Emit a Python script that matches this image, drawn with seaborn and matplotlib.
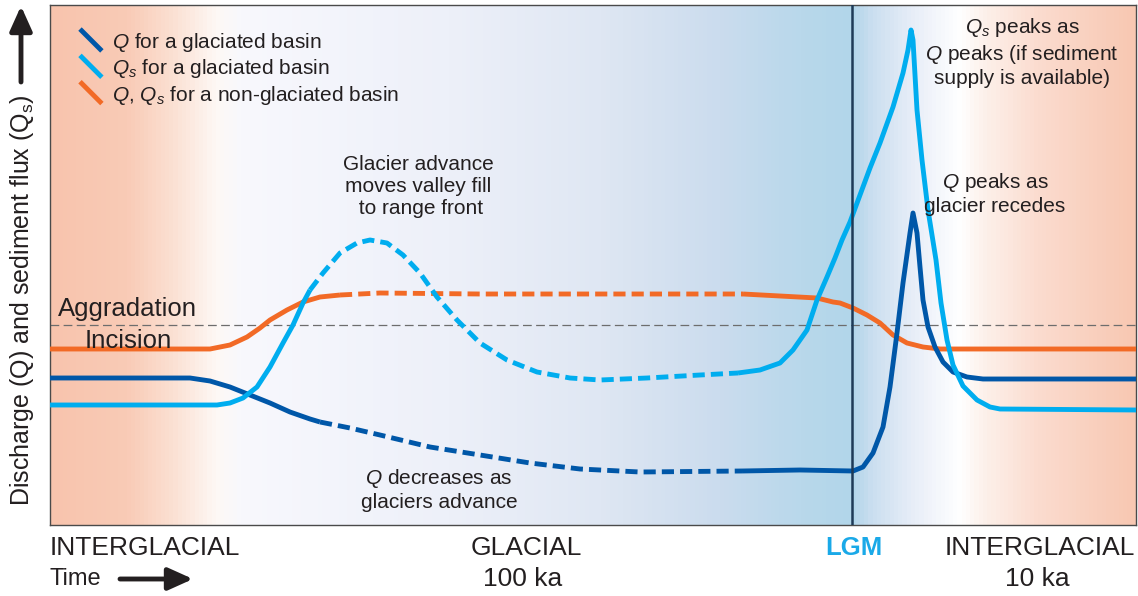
import numpy as np
import pandas as pd
import seaborn as sns
import matplotlib
matplotlib.use("Agg")
import matplotlib.pyplot as plt
from matplotlib.colors import LinearSegmentedColormap
from matplotlib.lines import Line2D
from matplotlib.legend_handler import HandlerBase

# ---------------- data (time axis in px-like units, values = relative flux) -------------
x_orange = [50, 170, 210, 230, 247, 260, 270, 287, 303, 320, 340, 380, 480, 580, 700, 743,
            780, 817, 833, 840, 853, 867, 880, 893, 907, 923, 940, 1000, 1136]
y_orange = [176, 176, 176, 180, 188, 197, 205, 215, 223, 228, 230, 232, 231, 231, 231, 231,
            229, 227, 223, 222, 217, 210, 202, 190, 182, 178, 176, 176, 176]
orange_dash = (340, 743)

x_q = [50, 190, 210, 230, 250, 270, 290, 310, 320, 350, 380, 430, 480, 530, 580, 640, 742,
       800, 853, 863, 873, 883, 890, 897, 903, 910, 913, 917, 920, 923, 928, 935, 943, 953,
       967, 983, 1000, 1136]
y_q = [147, 147, 144, 138, 130, 122, 113, 106, 103, 97, 90, 78, 70, 62, 56, 53, 54,
       55, 54, 58, 72, 98, 138, 192, 242, 292, 312, 292, 258, 225, 198, 178, 163, 153,
       148, 146, 146, 146]
q_dash = (320, 742)

x_qs = [50, 217, 230, 243, 257, 270, 283, 293, 303, 310, 323, 340, 357, 370, 387, 403, 420,
        437, 457, 480, 507, 537, 570, 600, 647, 700, 738, 760, 780, 793, 807, 817, 827, 835,
        842, 850, 860, 870, 880, 893, 903, 908, 911, 913, 917, 922, 928, 932, 936, 941, 947,
        953, 963, 977, 990, 1000, 1136]
y_qs = [120, 120, 122, 127, 138, 158, 182, 200, 222, 235, 252, 272, 282, 285, 282, 270, 252,
        228, 205, 182, 165, 153, 147, 145, 147, 150, 152, 155, 162, 175, 195, 225, 248, 267,
        285, 303, 330, 357, 382, 418, 452, 475, 495, 485, 415, 365, 315, 290, 265, 222, 185,
        160, 139, 125, 118, 116, 115]
qs_dash = (310, 738)

threshold = 200          # aggradation / incision line
lgm_x = 852

legend_labels = [r"$Q$ for a glaciated basin",
                 r"$Q_s$ for a glaciated basin",
                 r"$Q$, $Q_s$ for a non-glaciated basin"]

C_Q = "#0057a8"
C_QS = "#00adef"
C_OR = "#f26a26"
TXT = "#231f20"
LW = 3.5

# ---------------- figure ----------------
sns.set_theme(style="white")
plt.rcParams["font.family"] = ["Liberation Sans", "DejaVu Sans"]
plt.rcParams["mathtext.fontset"] = "custom"
plt.rcParams["mathtext.rm"] = "Liberation Sans"
plt.rcParams["mathtext.it"] = "Liberation Sans:italic"
plt.rcParams["mathtext.bf"] = "Liberation Sans:bold"

W, H = 1138, 596
fig = plt.figure(figsize=(W / 100, H / 100), dpi=100)
ax = fig.add_axes([50 / W, 1 - 525 / H, (1136 - 50) / W, 520 / H])
ax.set_xlim(50, 1136)
ax.set_ylim(0, 520)

# background gradient
stops = [(50, "#f8c4ad"), (125, "#f9cbb6"), (170, "#fbe0d2"), (215, "#fef8f5"),
         (240, "#f8f8fd"), (450, "#edf0f9"), (600, "#dfe7f3"), (720, "#cbdcee"),
         (800, "#b9d8eb"), (851, "#b2d6ea"), (855, "#b3d6ea"), (875, "#ccdff0"),
         (915, "#e8eef8"), (962, "#ffffff"), (985, "#fdf1eb"), (1040, "#fbdccf"),
         (1100, "#f9cfbd"), (1136, "#f8c8b2")]
cmap = LinearSegmentedColormap.from_list(
    "bg", [((p - 50) / 1086, c) for p, c in stops])
grad = np.linspace(0, 1, 1086)[None, :]
ax.imshow(grad, cmap=cmap, extent=(50, 1136, 0, 520), aspect="auto", zorder=0)

def draw(xs, ys, dash, color, z):
    df = pd.DataFrame({"x": xs, "y": ys})
    a, b = dash
    parts = [(df[df.x <= a], None), (df[(df.x >= a) & (df.x <= b)], (2.5, 1.25)),
             (df[df.x >= b], None)]
    for part, d in parts:
        sns.lineplot(data=part, x="x", y="y", sort=False, ax=ax, color=color,
                     lw=LW, zorder=z, estimator=None)
        ln = ax.lines[-1]
        if d is not None:
            ln.set_dashes(d)
            ln.set_dash_capstyle("butt")
        else:
            ln.set_solid_capstyle("butt")
        ln.set_solid_joinstyle("round")
        ln.set_dash_joinstyle("round")

ax.axhline(threshold, color="#6d6d6d", lw=0.9, dashes=(7, 3.5), zorder=2)
draw(x_orange, y_orange, orange_dash, C_OR, 3)
draw(x_q, y_q, q_dash, C_Q, 4)
draw(x_qs, y_qs, qs_dash, C_QS, 5)
ax.axvline(lgm_x, color="#1d3a57", lw=1.8, zorder=6)

ax.set_xticks([])
ax.set_yticks([])
ax.set_xlabel("")
ax.set_ylabel("")
for s in ax.spines.values():
    s.set_color("#4a4a4a")
    s.set_linewidth(1.0)
    s.set_visible(True)

# legend with diagonal handles
class Diag(HandlerBase):
    def create_artists(self, legend, orig, xd, yd, w, h, fs, trans):
        l = Line2D([-xd, -xd + w], [-yd + h * 1.3, -yd - h * 0.2],
                   color=orig.get_color(), lw=orig.get_linewidth(),
                   solid_capstyle="butt")
        l.set_transform(trans)
        return [l]

handles = [Line2D([], [], color=c, lw=LW) for c in (C_Q, C_QS, C_OR)]
leg = ax.legend(handles, legend_labels, handler_map={Line2D: Diag()},
                loc="upper left", bbox_to_anchor=(80 / W, 1 - 31 / H),
                bbox_transform=fig.transFigure, frameon=False, fontsize=15,
                handlelength=1.05, handleheight=0.7, handletextpad=0.5,
                labelspacing=0.16, borderpad=0, borderaxespad=0)
for t in leg.get_texts():
    t.set_color(TXT)

def Y(py):
    return 525 - py

kw = dict(color=TXT, fontsize=15, ha="center", va="center", linespacing=1.2, zorder=8)
ax.text(58, Y(316), "Aggradation", fontsize=18.5, color=TXT, ha="left", va="baseline", zorder=8)
ax.text(85, Y(348), "Incision", fontsize=18.5, color=TXT, ha="left", va="baseline", zorder=8)
ax.text(418, Y(187), "Glacier advance\nmoves valley fill\n to range front", **kw)
ax.text(439, Y(490), r"$Q$ decreases as" + "\nglaciers advance", **kw)
ax.text(1022, Y(52), r"$Q_s$ peaks as" + "\n" + r"$Q$ peaks (if sediment" + "\nsupply is available)", **kw)
ax.text(995, Y(194), r"$Q$ peaks as" + "\nglacier recedes", **kw)

# labels below the axes
def ft(px, py, s, **k):
    fig.text(px / W, 1 - py / H, s, **k)

ft(50, 548, "INTERGLACIAL", fontsize=19, color=TXT, ha="left", va="center")
ft(50, 579, "Time", fontsize=17, color=TXT, ha="left", va="center")
ft(526, 548, "GLACIAL", fontsize=19, color=TXT, ha="center", va="center")
ft(523, 579, "100 ka", fontsize=19, color=TXT, ha="center", va="center")
ft(854, 548, "LGM", fontsize=18.5, color="#1aa9e8", ha="center", va="center", fontweight="bold")
ft(1040, 548, "INTERGLACIAL", fontsize=19, color=TXT, ha="center", va="center")
ft(1037, 579, "10 ka", fontsize=19, color=TXT, ha="center", va="center")

ft(22, 300, "Discharge (Q) and sediment flux (Q$_\\mathrm{s}$)", fontsize=18,
   color=TXT, ha="center", va="center", rotation=90)

arrow = dict(arrowstyle="-|>,head_width=0.45,head_length=1.0", lw=3.5, color=TXT,
             mutation_scale=15, shrinkA=0, shrinkB=0)
ax.annotate("", xy=(193, H - 579), xytext=(120, H - 579),
            xycoords="figure pixels", textcoords="figure pixels", arrowprops=arrow,
            annotation_clip=False)
ax.annotate("", xy=(21, H - 6), xytext=(21, H - 82),
            xycoords="figure pixels", textcoords="figure pixels", arrowprops=arrow,
            annotation_clip=False)

fig.savefig("out.png", dpi=100)
